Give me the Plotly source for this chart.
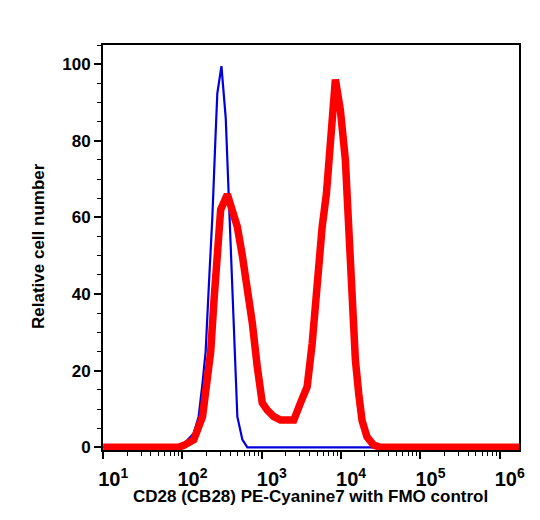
import plotly.graph_objects as go

# FMO control (blue)
fmo_x = [10, 95, 139, 160, 179, 196, 216, 238, 262, 275, 310, 351, 385, 426, 455, 492, 569, 658, 1.86e6]
fmo_y = [0, 0, 3.7, 8, 16.8, 25, 43, 60, 82, 92.4, 99.5, 86, 64.5, 43, 25, 8, 2, 0, 0]

# CD28 PE-Cyanine7 stained (red)
cd28_x = [10, 89, 104, 139, 179, 206, 227, 249, 275, 303, 368, 426, 492, 569, 625, 689, 760, 877,
          1014, 1172, 1419, 1722, 2535, 3076, 3733, 4315, 4989, 5768, 6531, 6982, 7709, 8472,
          9795, 11324, 12474, 13740, 15136, 16672, 18365, 21232, 25704, 31189, 1.86e6]
cd28_y = [0, 0, 0.5, 2, 8, 16.8, 25, 38, 51, 62, 66, 62, 57.5, 50, 44.6, 41, 32.4, 21,
          11.6, 9.7, 8, 7.1, 7.1, 11.6, 15.8, 27, 44.5, 57.5, 66.2, 75, 88, 96,
          88, 75, 57.5, 35.8, 22.8, 14, 7, 2.7, 0.6, 0, 0]

x_tickvals = [10, 100, 1000, 10000, 100000, 1000000]
x_exponents = ["1", "2", "3", "4", "5", "6"]
x_ticktext = ["10<sup>" + e + "</sup>" for e in x_exponents]
y_tickvals = [0, 20, 40, 60, 80, 100]

x_title = "CD28 (CB28) PE-Cyanine7 with FMO control"
y_title = "Relative cell number"

minor_x = [m * d for d in [10, 100, 1000, 10000, 100000, 1000000] for m in range(2, 10)]

FONT = "Arial, Liberation Sans, sans-serif"

fig = go.Figure()
fig.add_trace(go.Scatter(x=fmo_x, y=fmo_y, mode="lines",
                         line=dict(color="#0000dd", width=2.2), showlegend=False))
fig.add_trace(go.Scatter(x=cd28_x, y=cd28_y, mode="lines",
                         line=dict(color="#ff0000", width=7.5), showlegend=False))

fig.update_layout(
    width=540, height=520,
    margin=dict(l=103, r=21, t=45, b=70),
    paper_bgcolor="white", plot_bgcolor="white",
    font=dict(family=FONT, color="black"),
)
fig.update_xaxes(
    type="log", range=[0.998, 6.243],
    tickmode="array", tickvals=x_tickvals, ticktext=x_ticktext,
    ticks="outside", ticklen=7, tickwidth=1.5, tickcolor="black",
    ticklabelshift=10, ticklabelstandoff=3,
    minor=dict(tickmode="array", tickvals=minor_x, ticks="outside", ticklen=4,
               tickwidth=1, tickcolor="black"),
    showline=True, linecolor="black", linewidth=2, mirror=True,
    showgrid=False, zeroline=False,
    tickfont=dict(family=FONT, size=20, weight="bold"),
)
fig.update_yaxes(
    range=[-0.7, 105],
    tickmode="array", tickvals=y_tickvals,
    ticks="outside", ticklen=7, tickwidth=1.5, tickcolor="black",
    minor=dict(dtick=5, ticks="outside", ticklen=4, tickwidth=1, tickcolor="black"),
    showline=True, linecolor="black", linewidth=2, mirror=True,
    showgrid=False, zeroline=False,
    tickfont=dict(family=FONT, size=17, weight="bold"),
)
fig.add_annotation(text=x_title, xref="paper", yref="paper",
                   x=(310 - 103) / 416, y=-(496 - 450) / 405,
                   xanchor="center", yanchor="middle", showarrow=False,
                   font=dict(family=FONT, size=17, weight="bold", color="black"))
fig.add_annotation(text=y_title, xref="paper", yref="paper",
                   x=(38 - 103) / 416, y=(450 - 246) / 405, textangle=-90,
                   xanchor="center", yanchor="middle", showarrow=False,
                   font=dict(family=FONT, size=17, weight="bold", color="black"))

fig.write_html("out.html")
